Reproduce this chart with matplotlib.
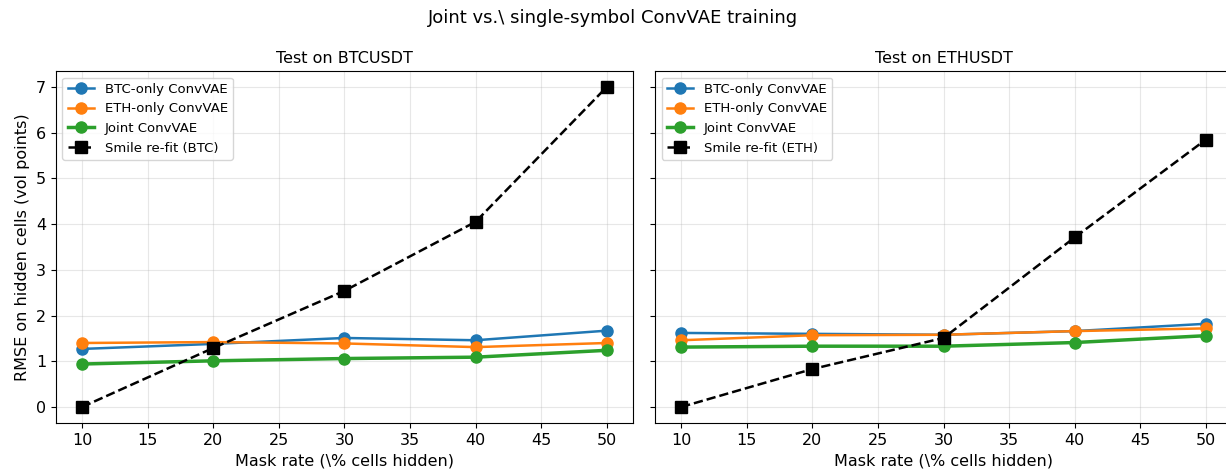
import matplotlib
matplotlib.use("Agg")
import matplotlib.pyplot as plt

mask_rates = [10, 20, 30, 40, 50]

# test on BTCUSDT
btc_test_btc_only = [1.27, 1.38, 1.51, 1.46, 1.67]
btc_test_eth_only = [1.40, 1.42, 1.39, 1.31, 1.40]
btc_test_joint = [0.94, 1.01, 1.06, 1.09, 1.24]
btc_test_smile = [0.0, 1.29, 2.54, 4.05, 7.0]

# test on ETHUSDT
eth_test_btc_only = [1.62, 1.60, 1.58, 1.66, 1.82]
eth_test_eth_only = [1.46, 1.57, 1.58, 1.66, 1.72]
eth_test_joint = [1.31, 1.33, 1.33, 1.41, 1.56]
eth_test_smile = [0.0, 0.83, 1.51, 3.71, 5.85]

panels = [
    ("Test on BTCUSDT", btc_test_btc_only, btc_test_eth_only, btc_test_joint, btc_test_smile, "Smile re-fit (BTC)"),
    ("Test on ETHUSDT", eth_test_btc_only, eth_test_eth_only, eth_test_joint, eth_test_smile, "Smile re-fit (ETH)"),
]

fig, axes = plt.subplots(1, 2, figsize=(12.26, 4.7), dpi=100, sharey=True)

for ax, (title, b, e, j, s, smile_label) in zip(axes, panels):
    ax.plot(mask_rates, b, "-o", color="tab:blue", lw=1.8, ms=8, label="BTC-only ConvVAE")
    ax.plot(mask_rates, e, "-o", color="tab:orange", lw=1.8, ms=8, label="ETH-only ConvVAE")
    ax.plot(mask_rates, j, "-o", color="tab:green", lw=2.5, ms=8, label="Joint ConvVAE")
    ax.plot(mask_rates, s, "--s", color="black", lw=1.8, ms=8, label=smile_label)
    ax.set_title(title, fontsize=11.5)
    ax.set_xlabel(r"Mask rate (\% cells hidden)", fontsize=11.5)
    ax.grid(True, alpha=0.3)
    ax.legend(loc="upper left", fontsize=9.5)
    ax.tick_params(labelsize=11.5)

axes[0].set_ylabel("RMSE on hidden cells (vol points)", fontsize=11.5)
fig.suptitle(r"Joint vs.\ single-symbol ConvVAE training", fontsize=13)

fig.subplots_adjust(left=0.0455, right=1.005, top=0.849, bottom=0.1, wspace=0.038)
fig.savefig("out.png", dpi=100)
